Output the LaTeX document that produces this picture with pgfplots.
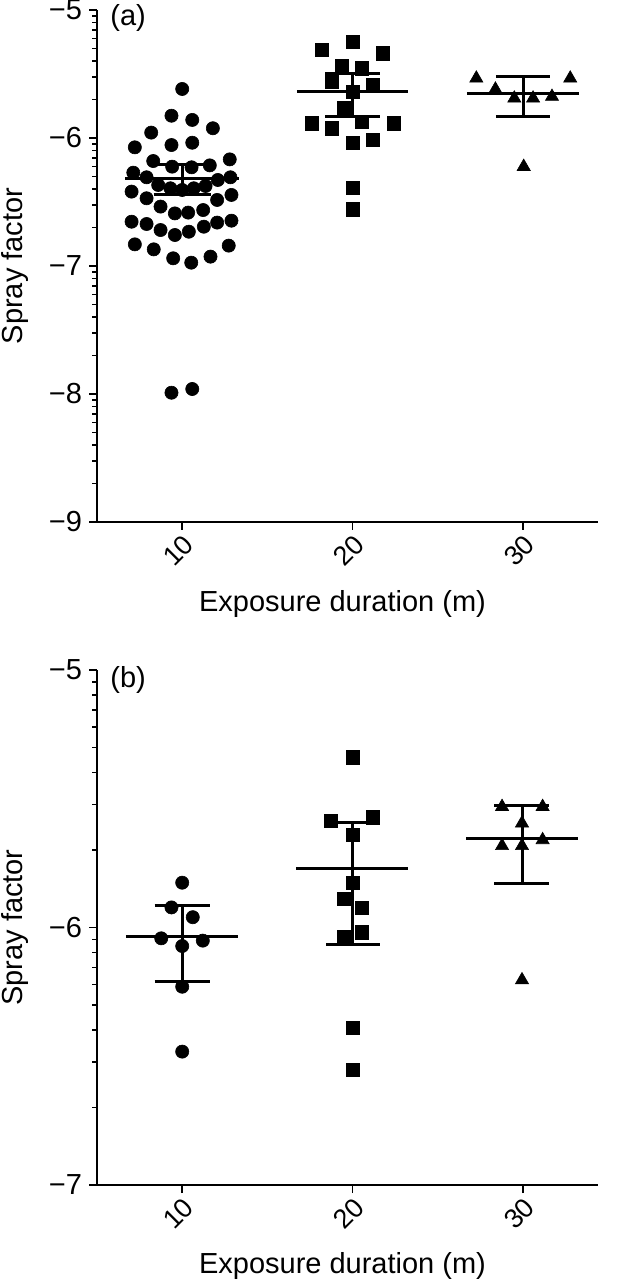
\documentclass[border=0pt]{standalone}
\usepackage{fontspec}
\setmainfont{Liberation Sans}
\usepackage{pgfplots}
\pgfplotsset{compat=1.18}

\newcommand{\lblfont}{\fontsize{14.5}{17}\selectfont}
\newcommand{\tckfont}{\fontsize{13.5}{16}\selectfont}

\pgfplotsset{
  spray/.style={
    scale only axis, width=250.5pt,
    axis x line*=bottom, axis y line*=left,
    axis line style={line width=1pt, -},
    xmin=5, xmax=34.4,
    xtick={10,20,30}, xticklabels={10,20,30},
    tick align=outside,
    major tick length=4pt, minor tick length=2.5pt,
    every tick/.style={line width=0.8pt, black},
    xticklabel style={rotate=45, anchor=north east, font=\tckfont, inner sep=1pt},
    yticklabel style={font=\lblfont},
    xlabel={Exposure duration (m)},
    ylabel={Spray factor},
    label style={font=\lblfont},
    ylabel style={at={(axis description cs:-0.164,0.5)}, anchor=center},
    unbounded coords=jump,
    clip=false,
  },
  pt/.style={only marks, black, mark options={fill=black, draw=black, line width=0.3pt}},
  mn/.style={black, line width=1.5pt, no marks},
}

\begin{document}
\begin{tikzpicture}
\path[use as bounding box] (-48.5pt,-47.5pt) rectangle (260pt,592.5pt);

% ---------- panel (a)
\begin{axis}[spray, at={(0,331.5pt)}, height=256pt,
  ymin=-9, ymax=-5,
  ytick={-9,-8,-7,-6,-5}, yticklabels={−9,−8,−7,−6,−5},
  minor ytick={-8.699,-8.523,-8.398,-8.301,-8.222,-8.155,-8.097,-8.046,
               -7.699,-7.523,-7.398,-7.301,-7.222,-7.155,-7.097,-7.046,
               -6.699,-6.523,-6.398,-6.301,-6.222,-6.155,-6.097,-6.046,
               -5.699,-5.523,-5.398,-5.301,-5.222,-5.155,-5.097,-5.046},
  xlabel style={at={(axis description cs:0.49,-0.161)}, anchor=center},
]
% 10 m
\addplot[pt, mark=*, mark size=3.3pt] coordinates {
(10.00,-5.617) (9.37,-5.826) (10.59,-5.859) (11.80,-5.924) (8.18,-5.958)
(7.22,-6.073) (9.37,-6.055) (10.59,-6.037)
(8.30,-6.180) (9.41,-6.224) (10.55,-6.229) (11.62,-6.214) (12.79,-6.167)
(7.13,-6.271) (7.91,-6.307) (8.59,-6.367) (9.31,-6.393) (10.00,-6.406)
(10.68,-6.393) (11.37,-6.375) (12.09,-6.328) (12.83,-6.307)
(7.03,-6.419) (7.91,-6.471) (12.05,-6.484) (12.89,-6.445)
(8.73,-6.536) (9.57,-6.589) (10.35,-6.583) (11.23,-6.563)
(7.03,-6.654) (7.91,-6.672) (8.73,-6.719) (9.57,-6.758) (10.39,-6.732)
(11.27,-6.693) (12.05,-6.661) (12.89,-6.646)
(7.22,-6.831) (8.33,-6.870) (9.47,-6.940) (10.53,-6.974) (11.66,-6.927) (12.73,-6.841)
(9.37,-7.990) (10.59,-7.961)
};
% 20 m
\addplot[pt, mark=square*, mark size=3.3pt] coordinates {
(18.21,-5.313) (20.00,-5.247) (21.79,-5.339) (19.38,-5.438) (20.56,-5.456)
(18.76,-5.560) (21.20,-5.586) (20.00,-5.638) (19.48,-5.768)
(17.62,-5.885) (18.80,-5.924) (20.56,-5.872) (22.41,-5.885)
(20.00,-6.036) (21.20,-6.016) (20.00,-6.388) (20.00,-6.557)
};
% 30 m
\addplot[pt, mark=triangle*, mark size=3.8pt] coordinates {
(27.26,-5.534) (32.77,-5.534) (28.38,-5.620) (29.49,-5.690)
(30.59,-5.690) (31.70,-5.677) (30.04,-6.224)
};
% means and error bars
\addplot[mn] coordinates {
(6.65,-6.315) (13.35,-6.315) (nan,nan)
(8.33,-6.211) (11.67,-6.211) (nan,nan)
(8.33,-6.445) (11.67,-6.445) (nan,nan)
(10,-6.211) (10,-6.445) (nan,nan)
(16.73,-5.638) (23.27,-5.638) (nan,nan)
(18.40,-5.495) (21.60,-5.495) (nan,nan)
(18.40,-5.834) (21.60,-5.834) (nan,nan)
(20,-5.495) (20,-5.834) (nan,nan)
(26.70,-5.651) (33.30,-5.651) (nan,nan)
(28.40,-5.516) (31.60,-5.516) (nan,nan)
(28.40,-5.833) (31.60,-5.833) (nan,nan)
(30,-5.516) (30,-5.833)
};
\node[anchor=west, font=\lblfont, inner sep=0pt] at (axis description cs:0.026,0.984) {(a)};
\end{axis}

% ---------- panel (b)
\begin{axis}[spray, at={(0,0)}, height=257.5pt,
  ymin=-7, ymax=-5,
  ytick={-7,-6,-5}, yticklabels={−7,−6,−5},
  minor ytick={-6.699,-6.523,-6.398,-6.301,-6.222,-6.155,-6.097,-6.046,
               -5.699,-5.523,-5.398,-5.301,-5.222,-5.155,-5.097,-5.046},
  xlabel style={at={(axis description cs:0.49,-0.158)}, anchor=center},
]
\addplot[pt, mark=*, mark size=3.3pt] coordinates {
(10.00,-5.826) (9.37,-5.922) (10.62,-5.960) (8.77,-6.042)
(11.21,-6.051) (10.00,-6.072) (10.00,-6.230) (10.00,-6.482)
};
\addplot[pt, mark=square*, mark size=3.3pt] coordinates {
(20.00,-5.339) (18.74,-5.585) (21.18,-5.572) (20.00,-5.641) (20.00,-5.826)
(19.48,-5.887) (20.56,-5.922) (19.48,-6.036) (20.56,-6.019)
(20.00,-6.388) (20.00,-6.553)
};
\addplot[pt, mark=triangle*, mark size=3.8pt] coordinates {
(28.77,-5.531) (31.15,-5.531) (29.94,-5.595) (28.77,-5.683)
(29.94,-5.683) (31.15,-5.660) (29.94,-6.204)
};
\addplot[mn] coordinates {
(6.70,-6.036) (13.30,-6.036) (nan,nan)
(8.38,-5.913) (11.62,-5.913) (nan,nan)
(8.38,-6.208) (11.62,-6.208) (nan,nan)
(10,-5.913) (10,-6.208) (nan,nan)
(16.70,-5.770) (23.25,-5.770) (nan,nan)
(18.45,-5.593) (21.60,-5.593) (nan,nan)
(18.45,-6.065) (21.60,-6.065) (nan,nan)
(20,-5.593) (20,-6.065) (nan,nan)
(26.67,-5.654) (33.20,-5.654) (nan,nan)
(28.32,-5.527) (31.55,-5.527) (nan,nan)
(28.32,-5.828) (31.55,-5.828) (nan,nan)
(29.94,-5.527) (29.94,-5.828)
};
\node[anchor=west, font=\lblfont, inner sep=0pt] at (axis description cs:0.026,0.981) {(b)};
\end{axis}
\end{tikzpicture}
\end{document}
